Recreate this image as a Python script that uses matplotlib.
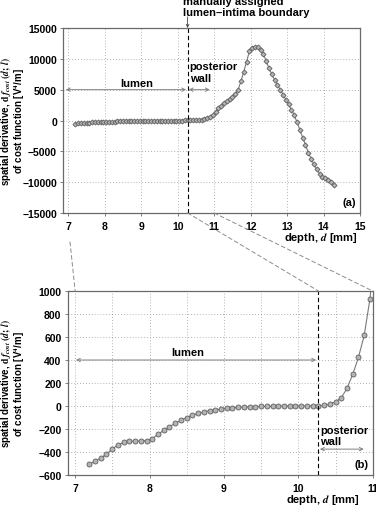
import matplotlib
matplotlib.use("Agg")
import matplotlib.pyplot as plt
from matplotlib.patches import ConnectionPatch
from matplotlib.ticker import MultipleLocator

plt.rcParams['font.family'] = ['Liberation Sans Narrow', 'Liberation Sans', 'DejaVu Sans']
plt.rcParams['font.weight'] = 'bold'
plt.rcParams['mathtext.fontset'] = 'stix'

# depth samples [mm] and spatial derivative of the cost function [V^4/m]
depth = [
    7.190, 7.267, 7.344, 7.421, 7.498, 7.575, 7.652, 7.729, 7.806, 7.883,
    7.960, 8.037, 8.114, 8.191, 8.268, 8.345, 8.422, 8.499, 8.576, 8.653,
    8.730, 8.807, 8.884, 8.961, 9.038, 9.115, 9.192, 9.269, 9.346, 9.423,
    9.500, 9.577, 9.654, 9.731, 9.808, 9.885, 9.962, 10.039, 10.116, 10.193,
    10.270, 10.347, 10.424, 10.501, 10.578, 10.655, 10.732, 10.809, 10.886, 10.963,
    11.040, 11.117, 11.194, 11.271, 11.348, 11.425, 11.502, 11.579, 11.656, 11.733,
    11.810, 11.887, 11.964, 12.041, 12.118, 12.195, 12.272, 12.349, 12.426, 12.503,
    12.580, 12.657, 12.734, 12.811, 12.888, 12.965, 13.042, 13.119, 13.196, 13.273,
    13.350, 13.427, 13.504, 13.581, 13.658, 13.735, 13.812, 13.889, 13.966, 14.043,
    14.120, 14.197, 14.274,
]
deriv = [
    -507, -481, -452, -420, -374, -339, -316, -307, -307, -305,
    -300, -285, -246, -212, -180, -151, -125, -100, -80, -65,
    -52, -42, -34, -27, -21, -16, -12, -9, -7, -5,
    -4, -3, -2, -1, -1, 0, 0, 0, 0, 1,
    2, 5, 15, 37, 72, 154, 276, 424, 615, 931,
    1450, 1950, 2400, 2840, 3180, 3500, 3850, 4300, 5000, 6350,
    7900, 9500, 11200, 11800, 11950, 11850, 11500, 10800, 9650, 8450,
    7500, 6600, 5800, 5000, 4200, 3400, 2600, 1750, 850, -300,
    -1500, -2800, -3900, -5200, -6200, -7100, -7900, -8600, -9100, -9400,
    -9650, -9950, -10500,
]

top_xticks = [7, 8, 9, 10, 11, 12, 13, 14, 15]
top_yticks = [-15000, -10000, -5000, 0, 5000, 10000, 15000]
bot_xticks = [7, 8, 9, 10, 11]
bot_yticks = [-600, -400, -200, 0, 200, 400, 600, 800, 1000]
boundary = 10.27

W, H = 376, 506
fig = plt.figure(figsize=(W / 100, H / 100), dpi=100)
ax1 = fig.add_axes([63.3 / W, 1 - 214 / H, 296.7 / W, 185 / H])
ax2 = fig.add_axes([67.7 / W, 1 - 476 / H, 305 / W, 184 / H])

line_kw = dict(color='#7a7a7a', lw=0.8, mfc='#b4b4b4', mec='#5e5e5e', mew=0.6)
ax1.plot(depth, deriv, marker='D', ms=2.6, **line_kw)
ax2.plot(depth, deriv, marker='o', ms=3.6, **line_kw)

for ax in (ax1, ax2):
    for s in ax.spines.values():
        s.set_color('#6a6a6a')
        s.set_linewidth(0.9)
    ax.tick_params(direction='out', length=2.5, width=0.6, color='#6a6a6a',
                   labelsize=7.5, pad=2)
    ax.axvline(boundary, color='black', lw=0.8, ls=(0, (4, 2.5)))

grid_kw = dict(color='#9a9a9a', ls=(0, (1, 2.5)), lw=0.6)

ax1.set_xlim(6.86, 15.0)
ax1.set_ylim(-15000, 15000)
ax1.set_xticks(top_xticks)
ax1.set_yticks(top_yticks)
ax1.grid(True, **grid_kw)
ax1.tick_params(axis='x', pad=3)

ax2.set_xlim(6.9, 11.0)
ax2.set_ylim(-600, 1000)
ax2.set_xticks(bot_xticks)
ax2.set_yticks(bot_yticks)
ax2.xaxis.set_minor_locator(MultipleLocator(0.5))
ax2.tick_params(which='minor', length=0)
ax2.grid(True, which='both', **grid_kw)
ax2.tick_params(axis='x', pad=3)

for ax in (ax1, ax2):
    for lab in ax.get_xticklabels() + ax.get_yticklabels():
        lab.set_fontweight('bold')

arrow_kw = dict(arrowstyle='<->', color='#808080', lw=0.7, shrinkA=0, shrinkB=0,
                mutation_scale=6)

# top panel annotations
ax1.annotate('', xy=(10.23, 5000), xytext=(6.93, 5000), arrowprops=arrow_kw)
ax1.text(8.87, 5350, 'lumen', ha='center', va='bottom', fontsize=8)
ax1.annotate('', xy=(10.88, 5000), xytext=(10.30, 5000), arrowprops=arrow_kw)
ax1.text(10.33, 9600, 'posterior\nwall', ha='left', va='top', fontsize=8,
         linespacing=1.15)
ax1.text(0.985, 0.03, '(a)', transform=ax1.transAxes, ha='right', va='bottom',
         fontsize=8)
ax1.annotate('', xy=(boundary, 15000), xytext=(0, 8), textcoords='offset points',
             arrowprops=dict(arrowstyle='->', color='#444444', lw=0.6,
                             shrinkA=0, shrinkB=0, mutation_scale=5),
             annotation_clip=False)

# bottom panel annotations
ax2.annotate('', xy=(10.24, 400), xytext=(7.01, 400), arrowprops=arrow_kw)
ax2.text(8.51, 430, 'lumen', ha='center', va='bottom', fontsize=8)
ax2.annotate('', xy=(10.88, -375), xytext=(10.29, -375), arrowprops=arrow_kw)
ax2.text(10.29, -165, 'posterior\nwall', ha='left', va='top', fontsize=8,
         linespacing=1.15)
ax2.text(0.985, 0.03, '(b)', transform=ax2.transAxes, ha='right', va='bottom',
         fontsize=8)

fig.text(183 / W, 1 - 18 / H, 'manually assigned\nlumen\u2013intima boundary',
         ha='left', va='bottom', fontsize=8, linespacing=1.1)

ylab = ('spatial derivative, $\\mathrm{d}\\,f_{cost}\\,(d;\\,l)$\n'
        'of cost function [V$^4$/m]')
fig.text(13 / W, 1 - 121.5 / H, ylab, rotation=90, ha='center', va='center',
         fontsize=7, multialignment='center', linespacing=1.0)
fig.text(13 / W, 1 - 384 / H, ylab, rotation=90, ha='center', va='center',
         fontsize=7, multialignment='center', linespacing=1.0)

fig.text(358 / W, 1 - 238 / H, 'depth, $d$ [mm]', ha='right', va='center',
         fontsize=8)
fig.text(360 / W, 1 - 500 / H, 'depth, $d$ [mm]', ha='right', va='center',
         fontsize=8)

# dashed zoom lines between the panels
con_kw = dict(color='#8c8c8c', lw=0.7, ls=(0, (4, 3)))
fig.add_artist(ConnectionPatch(xyA=(70 / W, 1 - 243 / H), coordsA='figure fraction',
                               xyB=(7.0, 1000), coordsB=ax2.transData, **con_kw))
fig.add_artist(ConnectionPatch(xyA=(boundary, -15000), coordsA=ax1.transData,
                               xyB=(boundary, 1000), coordsB=ax2.transData, **con_kw))
fig.add_artist(ConnectionPatch(xyA=(11.0, -15000), coordsA=ax1.transData,
                               xyB=(11.0, 1000), coordsB=ax2.transData, **con_kw))

fig.savefig('out.png', dpi=100)
